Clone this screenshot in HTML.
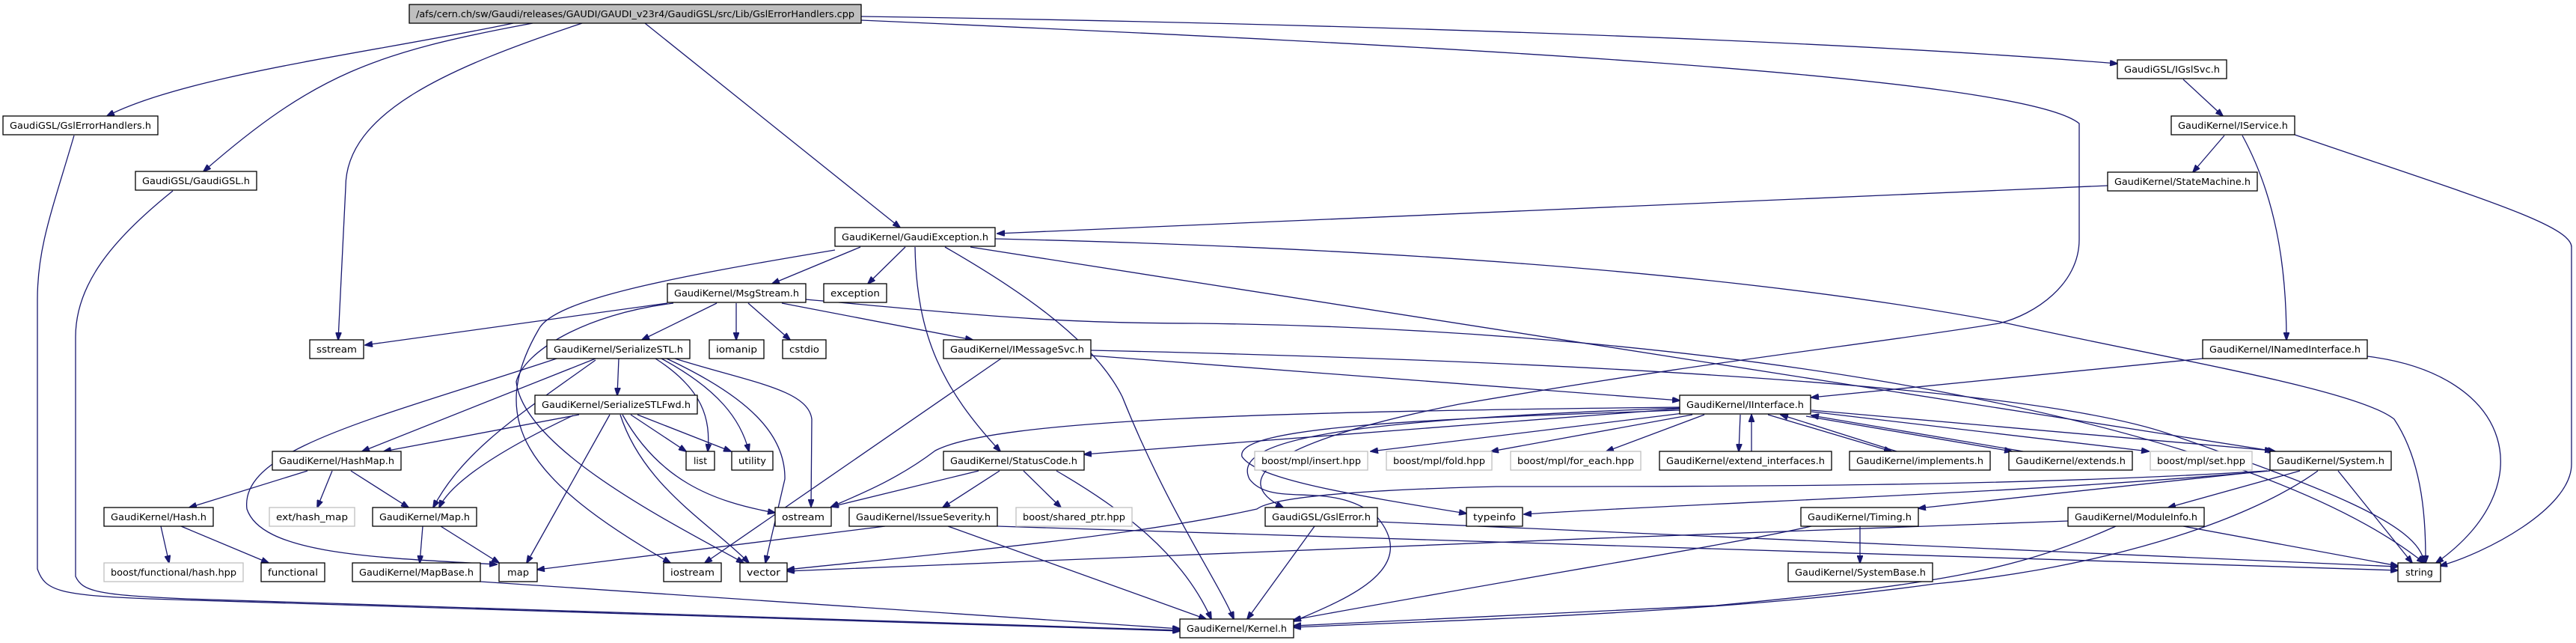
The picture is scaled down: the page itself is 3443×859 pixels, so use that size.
<!DOCTYPE html>
<html><head><meta charset="utf-8"><style>
html,body{margin:0;padding:0;background:#fff;}
svg{display:block;}
text{font-family:"DejaVu Sans","Liberation Sans",sans-serif;font-size:12.5px;fill:#000;}
.n{fill:#fff;stroke:#000;stroke-width:1.3;}
.g{fill:#fff;stroke:#bfbfbf;stroke-width:1.3;}
.e{fill:none;stroke:#191970;stroke-width:1.3;marker-end:url(#a);}
</style></head><body>
<svg width="3443" height="859" viewBox="0 0 3443 859" xmlns="http://www.w3.org/2000/svg">
<defs><marker id="a" markerUnits="userSpaceOnUse" markerWidth="11" markerHeight="8" refX="10" refY="4" orient="auto"><path d="M0,0 L11,4 L0,8 z" fill="#191970" stroke="#191970"/></marker></defs>
<g>
<path class="e" d="M686,31 C500,70 250,100 143,155"/>
<path class="e" d="M712,31 C500,70 420,100 272,229"/>
<path class="e" d="M778,31 C600,90 462,150 462,250 L452,454"/>
<path class="e" d="M862,31 L1203,304"/>
<path class="e" d="M1151,22 C1700,30 2400,50 2830,85"/>
<path class="e" d="M1151,27 C1900,60 2700,100 2779,165 L2779,320 C2779,380 2720,420 2672,432 C2500,460 2300,480 1950,540 C1700,590 1640,640 1715,678"/>
<path class="e" d="M1150,330 L1032,379"/>
<path class="e" d="M1210,330 L1160,379"/>
<path class="e" d="M1223,330 C1225,450 1260,520 1337,603"/>
<path class="e" d="M1263,330 C1350,380 1460,450 1500,530 C1560,680 1630,780 1649,827"/>
<path class="e" d="M1116,334 C900,370 740,400 720,440 C650,560 700,640 896,752"/>
<path class="e" d="M1297,330 L3041,603"/>
<path class="e" d="M1330,319 C1800,330 2300,360 2674,430 C2900,480 3150,520 3200,560 C3240,620 3242,700 3242,752"/>
<path class="e" d="M2817,248 L1333,312"/>
<path class="e" d="M2944,479 L2421,531"/>
<path class="e" d="M2973,181 L2931,230"/>
<path class="e" d="M2997,181 C3040,260 3056,350 3056,454"/>
<path class="e" d="M3067,180 C3300,260 3437,300 3437,330 L3437,620 C3437,680 3320,740 3261,756"/>
<path class="e" d="M2918,106 L2971,155"/>
<path class="e" d="M3164,476 C3360,500 3400,650 3256,752"/>
<path class="e" d="M892,405 L488,461"/>
<path class="e" d="M958,405 L858,454"/>
<path class="e" d="M984,405 L984,454"/>
<path class="e" d="M1000,405 L1056,454"/>
<path class="e" d="M1045,405 L1300,454"/>
<path class="e" d="M900,405 C780,420 700,470 690,510 C700,600 900,700 994,752"/>
<path class="e" d="M1077,400 C1300,420 1400,432 1600,432 C2300,440 3000,560 3240,752"/>
<path class="e" d="M827,479 L825,528"/>
<path class="e" d="M796,479 L484,603"/>
<path class="e" d="M796,481 C700,550 620,600 579,678"/>
<path class="e" d="M744,479 C500,560 320,600 330,680 C350,740 500,745 664,754"/>
<path class="e" d="M876,479 C940,520 950,560 946,603"/>
<path class="e" d="M884,479 C960,520 990,560 1001,603"/>
<path class="e" d="M891,479 C1000,530 1050,580 1049,640 L1023,752"/>
<path class="e" d="M902,479 C1000,510 1080,520 1085,560 L1084,677"/>
<path class="e" d="M774,554 L513,603"/>
<path class="e" d="M766,555 C650,610 600,650 587,678"/>
<path class="e" d="M815,554 L704,752"/>
<path class="e" d="M843,554 L917,603"/>
<path class="e" d="M852,554 L977,603"/>
<path class="e" d="M832,554 C880,640 950,670 1036,685"/>
<path class="e" d="M829,554 C860,650 950,700 1001,752"/>
<path class="e" d="M411,629 L253,678"/>
<path class="e" d="M444,629 L424,678"/>
<path class="e" d="M469,629 L546,678"/>
<path class="e" d="M215,703 L226,752"/>
<path class="e" d="M242,703 L359,752"/>
<path class="e" d="M565,703 L561,752"/>
<path class="e" d="M589,703 L667,752"/>
<path class="e" d="M642,777 L1577,840"/>
<path class="e" d="M99,181 C70,280 50,330 50,400 L50,760 C60,790 80,795 200,800 L1577,843"/>
<path class="e" d="M231,255 C150,320 101,380 101,450 L101,770 C110,790 130,795 250,800 L1577,842"/>
<path class="e" d="M1458,475 L2245,535"/>
<path class="e" d="M1458,468 C2000,480 2700,510 2900,580 C3100,650 3235,700 3240,752"/>
<path class="e" d="M1338,479 L942,752"/>
<path class="e" d="M2245,546 L1449,607"/>
<path class="e" d="M2245,544 C1700,550 1330,560 1250,602 C1200,640 1150,660 1111,677"/>
<path class="e" d="M2250,552 L1832,603"/>
<path class="e" d="M2262,554 L1993,603"/>
<path class="e" d="M2278,554 L2147,603"/>
<path class="e" d="M2326,554 L2324,603"/>
<path class="e" d="M2341,603 L2341,554"/>
<path class="e" d="M2363,554 L2528,603"/>
<path class="e" d="M2535,603 L2380,554"/>
<path class="e" d="M2414,556 L2689,603"/>
<path class="e" d="M2704,603 L2421,555"/>
<path class="e" d="M2421,550 L2872,603"/>
<path class="e" d="M2421,548 L3037,602"/>
<path class="e" d="M2245,548 C1900,560 1650,570 1660,610 C1680,640 1800,660 1960,686"/>
<path class="e" d="M2245,545 C1850,560 1640,580 1670,640 C1700,680 1780,640 1840,690 C1900,760 1800,800 1729,830"/>
<path class="e" d="M3034,629 C2700,660 2300,670 2037,687"/>
<path class="e" d="M3030,629 L2564,679"/>
<path class="e" d="M3074,629 L2898,678"/>
<path class="e" d="M3125,629 L3224,752"/>
<path class="e" d="M3098,629 C3000,700 2800,760 2586,780 C2300,820 1900,830 1729,838"/>
<path class="e" d="M3030,629 C2700,650 2300,650 2000,650 C1800,655 1700,665 1680,680 C1500,720 1200,745 1052,761"/>
<path class="e" d="M2486,703 L2486,752"/>
<path class="e" d="M2421,703 C2300,730 2100,760 1729,828"/>
<path class="e" d="M2764,696 C2200,715 1500,745 1052,763"/>
<path class="e" d="M2918,703 L3205,756"/>
<path class="e" d="M2828,703 C2700,760 2600,780 2293,809 L1729,836"/>
<path class="e" d="M1308,629 L1111,677"/>
<path class="e" d="M1336,629 L1260,678"/>
<path class="e" d="M1368,629 L1418,678"/>
<path class="e" d="M1412,629 C1500,680 1580,740 1619,827"/>
<path class="e" d="M1183,703 L718,761"/>
<path class="e" d="M1333,703 L3205,762"/>
<path class="e" d="M1267,703 L1612,827"/>
<path class="e" d="M1757,703 L1667,827"/>
<path class="e" d="M1841,697 L3205,757"/>
</g>
<g text-anchor="middle">
<rect x="547" y="6" width="604" height="25" fill="#bfbfbf" stroke="#000" stroke-width="1.3"/><text x="849" y="23" textLength="586" lengthAdjust="spacingAndGlyphs">/afs/cern.ch/sw/Gaudi/releases/GAUDI/GAUDI_v23r4/GaudiGSL/src/Lib/GslErrorHandlers.cpp</text>
<rect class="n" x="4" y="155" width="207" height="25"/><text x="107.5" y="172" textLength="189" lengthAdjust="spacingAndGlyphs">GaudiGSL/GslErrorHandlers.h</text>
<rect class="n" x="181" y="229" width="162" height="25"/><text x="262" y="246" textLength="144" lengthAdjust="spacingAndGlyphs">GaudiGSL/GaudiGSL.h</text>
<rect class="n" x="2830" y="80" width="146" height="25"/><text x="2903" y="97" textLength="128" lengthAdjust="spacingAndGlyphs">GaudiGSL/IGslSvc.h</text>
<rect class="n" x="2902" y="155" width="165" height="25"/><text x="2984.5" y="172" textLength="147" lengthAdjust="spacingAndGlyphs">GaudiKernel/IService.h</text>
<rect class="n" x="2817" y="230" width="200" height="25"/><text x="2917" y="247" textLength="182" lengthAdjust="spacingAndGlyphs">GaudiKernel/StateMachine.h</text>
<rect class="n" x="1116" y="304" width="214" height="25"/><text x="1223" y="321" textLength="196" lengthAdjust="spacingAndGlyphs">GaudiKernel/GaudiException.h</text>
<rect class="n" x="892" y="379" width="185" height="25"/><text x="984.5" y="396" textLength="167" lengthAdjust="spacingAndGlyphs">GaudiKernel/MsgStream.h</text>
<rect class="n" x="1101" y="379" width="84" height="25"/><text x="1143" y="396" textLength="66" lengthAdjust="spacingAndGlyphs">exception</text>
<rect class="n" x="414" y="454" width="72" height="25"/><text x="450" y="471" textLength="54" lengthAdjust="spacingAndGlyphs">sstream</text>
<rect class="n" x="731" y="454" width="191" height="25"/><text x="826.5" y="471" textLength="173" lengthAdjust="spacingAndGlyphs">GaudiKernel/SerializeSTL.h</text>
<rect class="n" x="948" y="454" width="73" height="25"/><text x="984.5" y="471" textLength="55" lengthAdjust="spacingAndGlyphs">iomanip</text>
<rect class="n" x="1046" y="454" width="58" height="25"/><text x="1075" y="471" textLength="40" lengthAdjust="spacingAndGlyphs">cstdio</text>
<rect class="n" x="1261" y="454" width="197" height="25"/><text x="1359.5" y="471" textLength="179" lengthAdjust="spacingAndGlyphs">GaudiKernel/IMessageSvc.h</text>
<rect class="n" x="2944" y="454" width="220" height="25"/><text x="3054" y="471" textLength="202" lengthAdjust="spacingAndGlyphs">GaudiKernel/INamedInterface.h</text>
<rect class="n" x="715" y="528" width="217" height="25"/><text x="823.5" y="545" textLength="199" lengthAdjust="spacingAndGlyphs">GaudiKernel/SerializeSTLFwd.h</text>
<rect class="n" x="2245" y="528" width="175" height="25"/><text x="2332.5" y="545" textLength="157" lengthAdjust="spacingAndGlyphs">GaudiKernel/IInterface.h</text>
<rect class="n" x="364" y="603" width="172" height="25"/><text x="450" y="620" textLength="154" lengthAdjust="spacingAndGlyphs">GaudiKernel/HashMap.h</text>
<rect class="n" x="917" y="603" width="38" height="25"/><text x="936" y="620" textLength="18" lengthAdjust="spacingAndGlyphs">list</text>
<rect class="n" x="978" y="603" width="55" height="25"/><text x="1005.5" y="620" textLength="37" lengthAdjust="spacingAndGlyphs">utility</text>
<rect class="n" x="1261" y="603" width="188" height="25"/><text x="1355" y="620" textLength="170" lengthAdjust="spacingAndGlyphs">GaudiKernel/StatusCode.h</text>
<rect class="g" x="1677" y="603" width="151" height="25"/><text x="1752.5" y="620" textLength="133" lengthAdjust="spacingAndGlyphs">boost/mpl/insert.hpp</text>
<rect class="g" x="1853" y="603" width="141" height="25"/><text x="1923.5" y="620" textLength="123" lengthAdjust="spacingAndGlyphs">boost/mpl/fold.hpp</text>
<rect class="g" x="2019" y="603" width="174" height="25"/><text x="2106" y="620" textLength="156" lengthAdjust="spacingAndGlyphs">boost/mpl/for_each.hpp</text>
<rect class="n" x="2218" y="603" width="230" height="25"/><text x="2333" y="620" textLength="212" lengthAdjust="spacingAndGlyphs">GaudiKernel/extend_interfaces.h</text>
<rect class="n" x="2472" y="603" width="188" height="25"/><text x="2566" y="620" textLength="170" lengthAdjust="spacingAndGlyphs">GaudiKernel/implements.h</text>
<rect class="n" x="2685" y="603" width="165" height="25"/><text x="2767.5" y="620" textLength="147" lengthAdjust="spacingAndGlyphs">GaudiKernel/extends.h</text>
<rect class="g" x="2874" y="603" width="136" height="25"/><text x="2942" y="620" textLength="118" lengthAdjust="spacingAndGlyphs">boost/mpl/set.hpp</text>
<rect class="n" x="3034" y="603" width="162" height="25"/><text x="3115" y="620" textLength="144" lengthAdjust="spacingAndGlyphs">GaudiKernel/System.h</text>
<rect class="n" x="139" y="678" width="146" height="25"/><text x="212" y="695" textLength="128" lengthAdjust="spacingAndGlyphs">GaudiKernel/Hash.h</text>
<rect class="g" x="360" y="678" width="114" height="25"/><text x="417" y="695" textLength="96" lengthAdjust="spacingAndGlyphs">ext/hash_map</text>
<rect class="n" x="498" y="678" width="139" height="25"/><text x="567.5" y="695" textLength="121" lengthAdjust="spacingAndGlyphs">GaudiKernel/Map.h</text>
<rect class="n" x="1036" y="678" width="75" height="25"/><text x="1073.5" y="695" textLength="57" lengthAdjust="spacingAndGlyphs">ostream</text>
<rect class="n" x="1135" y="678" width="198" height="25"/><text x="1234" y="695" textLength="180" lengthAdjust="spacingAndGlyphs">GaudiKernel/IssueSeverity.h</text>
<rect class="g" x="1358" y="678" width="155" height="25"/><text x="1435.5" y="695" textLength="137" lengthAdjust="spacingAndGlyphs">boost/shared_ptr.hpp</text>
<rect class="n" x="1691" y="678" width="150" height="25"/><text x="1766" y="695" textLength="132" lengthAdjust="spacingAndGlyphs">GaudiGSL/GslError.h</text>
<rect class="n" x="1960" y="678" width="75" height="25"/><text x="1997.5" y="695" textLength="57" lengthAdjust="spacingAndGlyphs">typeinfo</text>
<rect class="n" x="2407" y="678" width="157" height="25"/><text x="2485.5" y="695" textLength="139" lengthAdjust="spacingAndGlyphs">GaudiKernel/Timing.h</text>
<rect class="n" x="2764" y="678" width="182" height="25"/><text x="2855" y="695" textLength="164" lengthAdjust="spacingAndGlyphs">GaudiKernel/ModuleInfo.h</text>
<rect class="g" x="139" y="752" width="186" height="25"/><text x="232" y="769" textLength="168" lengthAdjust="spacingAndGlyphs">boost/functional/hash.hpp</text>
<rect class="n" x="349" y="752" width="85" height="25"/><text x="391.5" y="769" textLength="67" lengthAdjust="spacingAndGlyphs">functional</text>
<rect class="n" x="471" y="752" width="171" height="25"/><text x="556.5" y="769" textLength="153" lengthAdjust="spacingAndGlyphs">GaudiKernel/MapBase.h</text>
<rect class="n" x="667" y="752" width="51" height="25"/><text x="692.5" y="769" textLength="29" lengthAdjust="spacingAndGlyphs">map</text>
<rect class="n" x="887" y="752" width="77" height="25"/><text x="925.5" y="769" textLength="59" lengthAdjust="spacingAndGlyphs">iostream</text>
<rect class="n" x="989" y="752" width="63" height="25"/><text x="1020.5" y="769" textLength="45" lengthAdjust="spacingAndGlyphs">vector</text>
<rect class="n" x="2390" y="752" width="193" height="25"/><text x="2486.5" y="769" textLength="175" lengthAdjust="spacingAndGlyphs">GaudiKernel/SystemBase.h</text>
<rect class="n" x="3205" y="752" width="57" height="25"/><text x="3233.5" y="769" textLength="37" lengthAdjust="spacingAndGlyphs">string</text>
<rect class="n" x="1577" y="827" width="152" height="25"/><text x="1653" y="844" textLength="134" lengthAdjust="spacingAndGlyphs">GaudiKernel/Kernel.h</text>
</g>
</svg>
</body></html>
